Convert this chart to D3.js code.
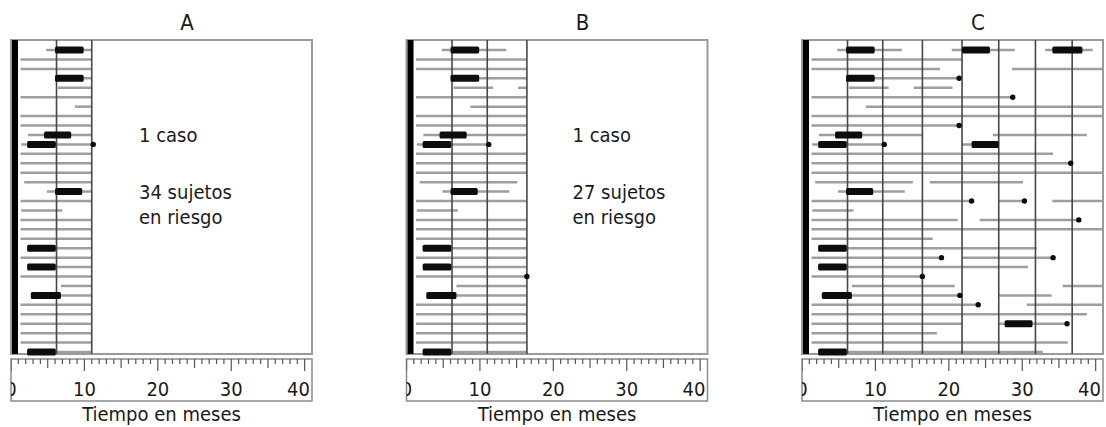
<!DOCTYPE html>
<html>
<head>
<meta charset="utf-8">
<script src="https://cdn.jsdelivr.net/npm/d3@7"></script>
<style>
  body { margin: 0; background: #fff; }
  svg { display: block; }
  text { font-family: "DejaVu Sans Condensed", "DejaVu Sans", sans-serif; font-stretch: condensed; fill: #1a1a1a; }
</style>
</head>
<body>
<div class="chart"></div>
<script>
// panels and their cut-off times (time of the case that defines the risk set)
const panelNames = ["A", "B", "C"];
const cutTimes = [11, 16.4, 41];
const panelNotes = [["1 caso", "34 sujetos", "en riesgo"], ["1 caso", "27 sujetos", "en riesgo"], []];
const tickLabels = [0, 10, 20, 30, 40];
const gridTimes = [6.2, 11, 16.4, 21.8, 26.8, 31.8, 36.8];

// follow-up lines: [row, start, end] in months
const followUp = [
  [0, 4.8, 13.6], [0, 20.4, 29.0], [0, 33.1, 39.6],
  [1, 1.3, 21.8],
  [2, 1.3, 18.8], [2, 28.6, 41],
  [3, 6.0, 21.4],
  [4, 6.4, 11.8], [4, 15.2, 20.5],
  [5, 1.3, 28.7],
  [6, 8.7, 41],
  [7, 1.3, 41],
  [8, 1.3, 21.4],
  [9, 2.3, 16.5], [9, 26.0, 38.8],
  [10, 1.4, 11.2], [10, 21.8, 26.8],
  [11, 1.3, 34.2],
  [12, 1.3, 36.6],
  [13, 1.3, 41],
  [14, 1.8, 15.1], [14, 17.4, 30.1],
  [15, 4.9, 14.0],
  [16, 1.3, 23.1], [16, 26.8, 30.3], [16, 34.1, 41],
  [17, 1.4, 7.0],
  [18, 1.3, 21.2], [18, 24.2, 37.7],
  [19, 1.3, 41],
  [20, 1.3, 17.8],
  [21, 2.2, 32.0],
  [22, 1.3, 19.0], [22, 21.8, 34.2],
  [23, 2.2, 30.8],
  [24, 1.3, 16.4],
  [25, 6.8, 20.8], [25, 35.5, 41],
  [26, 2.7, 21.5], [26, 26.8, 34.0],
  [27, 1.3, 24.0], [27, 30.6, 41],
  [28, 1.3, 38.8],
  [29, 1.3, 21.8], [29, 26.8, 36.1],
  [30, 1.3, 18.4],
  [31, 1.3, 36.2],
  [32, 2.2, 32.8]
];

// exposure periods (thick bars): [row, start, end]
const exposure = [
  [0, 6.0, 9.9], [0, 21.8, 25.6], [0, 34.1, 38.2],
  [3, 6.0, 9.9],
  [9, 4.5, 8.2],
  [10, 2.2, 6.1], [10, 23.1, 26.8],
  [15, 6.0, 9.7],
  [21, 2.2, 6.1],
  [23, 2.2, 6.1],
  [26, 2.7, 6.8],
  [29, 27.6, 31.4],
  [32, 2.2, 6.1]
];

// cases: [row, time]
const cases = [
  [3, 21.4], [5, 28.7], [8, 21.4], [10, 11.2], [12, 36.6],
  [16, 23.1], [16, 30.3], [18, 37.7], [22, 19.0], [22, 34.2],
  [24, 16.4], [26, 21.5], [27, 24.0], [29, 36.1]
];

const rowCount = 33;
const width = 1106, height = 427;
const panelLeft = [11, 406.5, 802];
const panelW = 301;
const plotTop = 40, plotBottom = 354;
const axisTop = 359, axisBottom = 401;

const svg = d3.select(".chart").append("svg")
  .attr("width", width)
  .attr("height", height);

const y = d3.scalePoint()
  .domain(d3.range(rowCount))
  .range([50, 352]);

panelNames.forEach((name, i) => {
  const x0 = panelLeft[i];
  const cut = cutTimes[i];
  const x = d3.scaleLinear().domain([0, 41]).range([x0, x0 + panelW]);
  const g = svg.append("g");

  // title
  g.append("text")
    .attr("x", x0 + 176).attr("y", 30)
    .attr("text-anchor", "middle")
    .style("font-size", "22px")
    .text(name);

  // frame
  g.append("rect")
    .attr("x", x0).attr("y", plotTop)
    .attr("width", panelW).attr("height", plotBottom - plotTop)
    .attr("fill", "none")
    .attr("stroke", "#9a9a9a")
    .attr("stroke-width", 2);

  // follow-up lines
  g.selectAll(".fu")
    .data(followUp.filter(d => d[1] < cut))
    .join("line")
    .attr("x1", d => x(d[1]))
    .attr("x2", d => x(Math.min(d[2], cut)))
    .attr("y1", d => y(d[0]))
    .attr("y2", d => y(d[0]))
    .attr("stroke", "#9e9e9e")
    .attr("stroke-width", 2.5);

  // vertical lines
  g.selectAll(".grid")
    .data(gridTimes.filter(t => t <= cut))
    .join("line")
    .attr("x1", d => x(d)).attr("x2", d => x(d))
    .attr("y1", plotTop).attr("y2", plotBottom)
    .attr("stroke", "#474747")
    .attr("stroke-width", 1.6);

  // exposure bars
  g.selectAll(".bar")
    .data(exposure.filter(d => d[1] < cut))
    .join("rect")
    .attr("x", d => x(d[1]))
    .attr("width", d => x(Math.min(d[2], cut)) - x(d[1]))
    .attr("y", d => y(d[0]) - 3.5)
    .attr("height", 7)
    .attr("rx", 1.5)
    .attr("fill", "#0d0d0d");

  // cases
  g.selectAll(".case")
    .data(cases.filter(d => d[1] <= cut + 0.5))
    .join("circle")
    .attr("cx", d => x(d[1]))
    .attr("cy", d => y(d[0]))
    .attr("r", 2.7)
    .attr("fill", "#0d0d0d");

  // thick left bar
  g.append("rect")
    .attr("x", x0 + 1).attr("y", plotTop)
    .attr("width", 6).attr("height", plotBottom - plotTop)
    .attr("fill", "#000");

  // notes
  const notes = panelNotes[i];
  if (notes.length) {
    const tx = i === 0 ? x0 + 128 : x0 + 166;
    [142, 199, 224].forEach((ty, k) => {
      g.append("text")
        .attr("x", tx).attr("y", ty)
        .style("font-size", "20px")
        .text(notes[k]);
    });
  }

  // axis box
  const clipId = "clip" + name;
  svg.append("clipPath").attr("id", clipId)
    .append("rect")
    .attr("x", x0).attr("y", axisTop)
    .attr("width", panelW).attr("height", axisBottom - axisTop);

  g.append("rect")
    .attr("x", x0).attr("y", axisTop)
    .attr("width", panelW).attr("height", axisBottom - axisTop)
    .attr("fill", "none")
    .attr("stroke", "#8a8a8a")
    .attr("stroke-width", 1.5);

  const ax = g.append("g").attr("clip-path", `url(#${clipId})`);
  ax.selectAll(".tick")
    .data(d3.range(0, 41, 1))
    .join("line")
    .attr("x1", d => x(d)).attr("x2", d => x(d))
    .attr("y1", axisTop)
    .attr("y2", d => axisTop + (d % 10 === 0 ? 12 : d % 5 === 0 ? 9 : 5))
    .attr("stroke", "#555")
    .attr("stroke-width", 1.2);

  // labels; the first one is cut by the box as in the original, the last is kept inside
  ax.selectAll(".lab")
    .data(tickLabels)
    .join("text")
    .attr("x", d => x(d)).attr("y", 396)
    .attr("text-anchor", "middle")
    .style("font-size", "20px")
    .text(d => d)
    .each(function (d) {
      if (d === tickLabels[tickLabels.length - 1]) {
        const w = this.getComputedTextLength();
        const right = x0 + panelW - 2;
        if (x(d) + w / 2 > right) d3.select(this).attr("x", right - w / 2);
      }
    });

  g.append("text")
    .attr("x", x0 + panelW / 2).attr("y", 421)
    .attr("text-anchor", "middle")
    .style("font-size", "20px")
    .text("Tiempo en meses");
});
</script>
</body>
</html>
